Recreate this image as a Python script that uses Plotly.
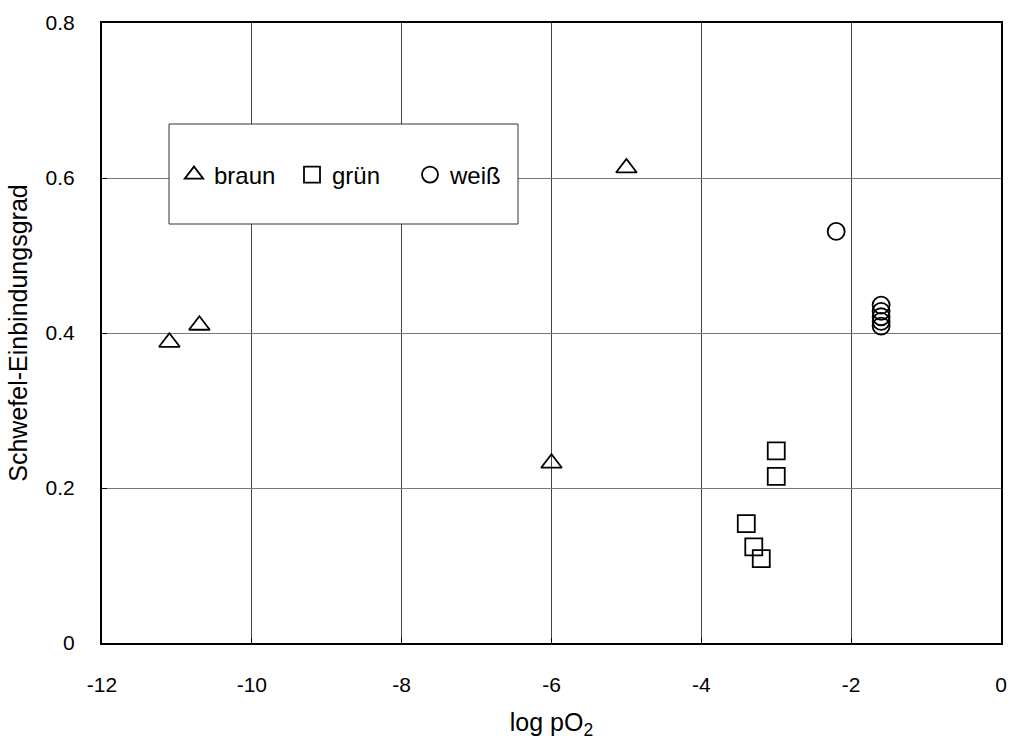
import plotly.graph_objects as go

braun_x = [-11.1, -10.7, -6.0, -5.0]
braun_y = [0.388, 0.410, 0.232, 0.613]
gruen_x = [-3.0, -3.0, -3.4, -3.3, -3.2]
gruen_y = [0.248, 0.215, 0.154, 0.124, 0.109]
weiss_x = [-2.2, -1.6, -1.6, -1.6, -1.6, -1.6]
weiss_y = [0.531, 0.436, 0.428, 0.421, 0.415, 0.409]

x_ticks = [-12, -10, -8, -6, -4, -2, 0]
y_ticks = [0, 0.2, 0.4, 0.6, 0.8]
y_ticklabels = ["0", "0.2", "0.4", "0.6", "0.8"]

FONT = "Liberation Sans, Arial, sans-serif"

fig = go.Figure()
fig.add_trace(go.Scatter(x=braun_x, y=braun_y, mode="markers", name="braun",
                         marker=dict(symbol="triangle-up-open", size=18, color="black",
                                     line=dict(color="black", width=1.8))))
fig.add_trace(go.Scatter(x=gruen_x, y=gruen_y, mode="markers", name="grün",
                         marker=dict(symbol="square-open", size=17, color="black",
                                     line=dict(color="black", width=1.8))))
fig.add_trace(go.Scatter(x=weiss_x, y=weiss_y, mode="markers", name="weiß",
                         marker=dict(symbol="circle-open", size=17, color="black",
                                     line=dict(color="black", width=1.8))))

# legend box
fig.add_shape(type="rect", xref="paper", yref="paper",
              x0=(169 - 102) / 899, x1=(518 - 102) / 899,
              y0=(643 - 224) / 620, y1=(643 - 124) / 620,
              line=dict(color="#333", width=1), fillcolor="white", layer="above")

fig.update_layout(
    width=1011, height=740,
    margin=dict(l=102, r=10, t=23, b=97, autoexpand=False),
    paper_bgcolor="white", plot_bgcolor="white",
    font=dict(family=FONT, size=21, color="black"),
    showlegend=True,
    legend=dict(orientation="h", x=(174 - 102) / 899, y=(643 - 175) / 620,
                xanchor="left", yanchor="middle", bgcolor="rgba(0,0,0,0)",
                borderwidth=0, font=dict(size=24, family=FONT),
                entrywidth=73, itemsizing="trace"),
    xaxis=dict(range=[-12, 0], tickvals=x_ticks, ticktext=[str(v) for v in x_ticks],
               showgrid=True, gridcolor="#444", gridwidth=1,
               showline=True, linecolor="black", linewidth=2, mirror=True,
               ticks="inside", ticklen=5, tickcolor="black",
               zeroline=False, ticklabelstandoff=22, automargin=False,
               title=dict(text="log pO<sub>2</sub>", standoff=24)),
    yaxis=dict(range=[0, 0.8], tickvals=y_ticks, ticktext=y_ticklabels,
               showgrid=True, gridcolor="#777", gridwidth=1.2,
               showline=True, linecolor="black", linewidth=2, mirror=True,
               ticks="inside", ticklen=5, tickcolor="black",
               zeroline=False, ticklabelstandoff=21, automargin=False,
               title=dict(text="Schwefel-Einbindungsgrad", standoff=11)),
)

fig.write_html("out.html", config={"displayModeBar": False},
               post_script="document.body.style.margin='0';document.body.style.overflow='hidden';")
